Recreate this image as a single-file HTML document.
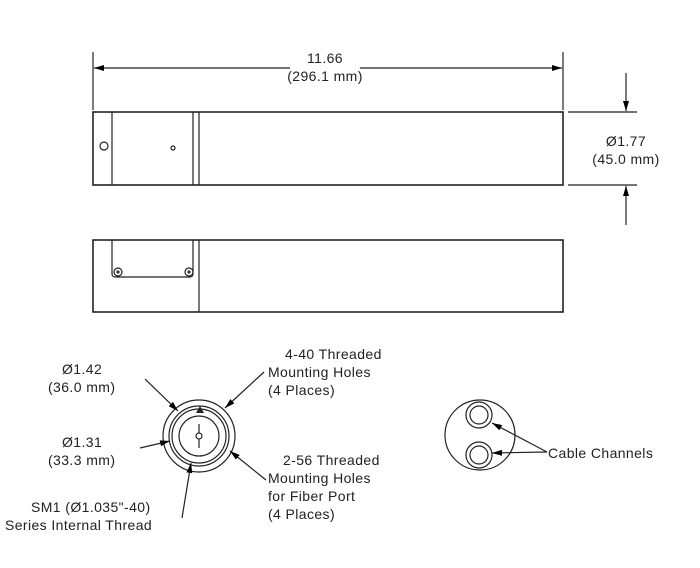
<!DOCTYPE html>
<html><head><style>
body{margin:0;background:#fff;}
svg{display:block;font-family:"Liberation Sans",sans-serif;}
text{font-size:14px;fill:#222;letter-spacing:0.4px;}
</style></head><body>
<svg width="700" height="568" viewBox="0 0 700 568">
<defs><marker id="a" markerWidth="10" markerHeight="6" refX="10" refY="3" orient="auto" markerUnits="userSpaceOnUse"><path d="M0,0L10,3L0,6z" fill="#000"/></marker></defs>
<g stroke="#222" fill="none" stroke-width="1.2">
<line x1="93" y1="52" x2="93" y2="110"/><line x1="563" y1="52" x2="563" y2="110"/>
<line x1="290" y1="68" x2="94" y2="68" marker-end="url(#a)"/>
<line x1="360" y1="68" x2="562" y2="68" marker-end="url(#a)"/>
<line x1="568" y1="112" x2="637" y2="112"/><line x1="568" y1="185" x2="637" y2="185"/>
<line x1="626" y1="73" x2="626" y2="111" marker-end="url(#a)"/>
<line x1="626" y1="225" x2="626" y2="186" marker-end="url(#a)"/>
<rect x="93" y="112" width="470" height="73" stroke-width="1.6"/>
<line x1="112" y1="112" x2="112" y2="185"/>
<line x1="193" y1="112" x2="193" y2="185"/>
<line x1="199" y1="112" x2="199" y2="185"/>
<circle cx="104" cy="146" r="4"/>
<circle cx="173" cy="148" r="2"/>
<rect x="93" y="240" width="470" height="72" stroke-width="1.6"/>
<path d="M112 240V274a3 3 0 0 0 3 3H190a3 3 0 0 0 3-3V240"/>
<line x1="199" y1="240" x2="199" y2="312"/>
<circle cx="118" cy="272" r="4"/><circle cx="118" cy="272" r="1"/>
<circle cx="189" cy="272" r="4"/><circle cx="189" cy="272" r="1"/>
<circle cx="199" cy="436" r="36"/>
<circle cx="199" cy="436" r="30"/>
<circle cx="199" cy="436" r="27"/>
<circle cx="199" cy="436" r="20"/>
<circle cx="199" cy="436" r="3"/>
<line x1="199" y1="424" x2="199" y2="433"/><line x1="199" y1="439" x2="199" y2="448"/>
<line x1="145" y1="379" x2="178" y2="411" marker-end="url(#a)"/>
<line x1="264" y1="372" x2="225" y2="408" marker-end="url(#a)"/>
<line x1="140" y1="448" x2="170" y2="441" marker-end="url(#a)"/>
<line x1="266" y1="480" x2="230" y2="451" marker-end="url(#a)"/>
<line x1="182" y1="518" x2="191" y2="463" marker-end="url(#a)"/>
<circle cx="480" cy="435" r="35"/>
<circle cx="479" cy="415" r="13"/><circle cx="479" cy="415" r="9"/>
<circle cx="479" cy="455" r="13"/><circle cx="479" cy="455" r="9"/>
<line x1="547" y1="452" x2="492" y2="423" marker-end="url(#a)"/>
<line x1="547" y1="452" x2="492" y2="453" marker-end="url(#a)"/>
</g>
<path d="M196 413l4-7 4 7z" fill="#222"/>
<g text-anchor="middle">
<text x="325" y="63">11.66</text><text x="325" y="81">(296.1 mm)</text>
<text x="626" y="146">Ø1.77</text><text x="626" y="164">(45.0 mm)</text>
</g>
<text x="62" y="374">Ø1.42</text><text x="48" y="392">(36.0 mm)</text>
<text x="62" y="447">Ø1.31</text><text x="48" y="465">(33.3 mm)</text>
<text x="31" y="512">SM1 (Ø1.035"-40)</text><text x="5" y="530">Series Internal Thread</text>
<text x="285" y="359">4-40 Threaded</text><text x="268" y="377">Mounting Holes</text><text x="268" y="395">(4 Places)</text>
<text x="283" y="465">2-56 Threaded</text><text x="268" y="483">Mounting Holes</text><text x="268" y="501">for Fiber Port</text><text x="268" y="519">(4 Places)</text>
<text x="548" y="458">Cable Channels</text>
</svg>
</body></html>
